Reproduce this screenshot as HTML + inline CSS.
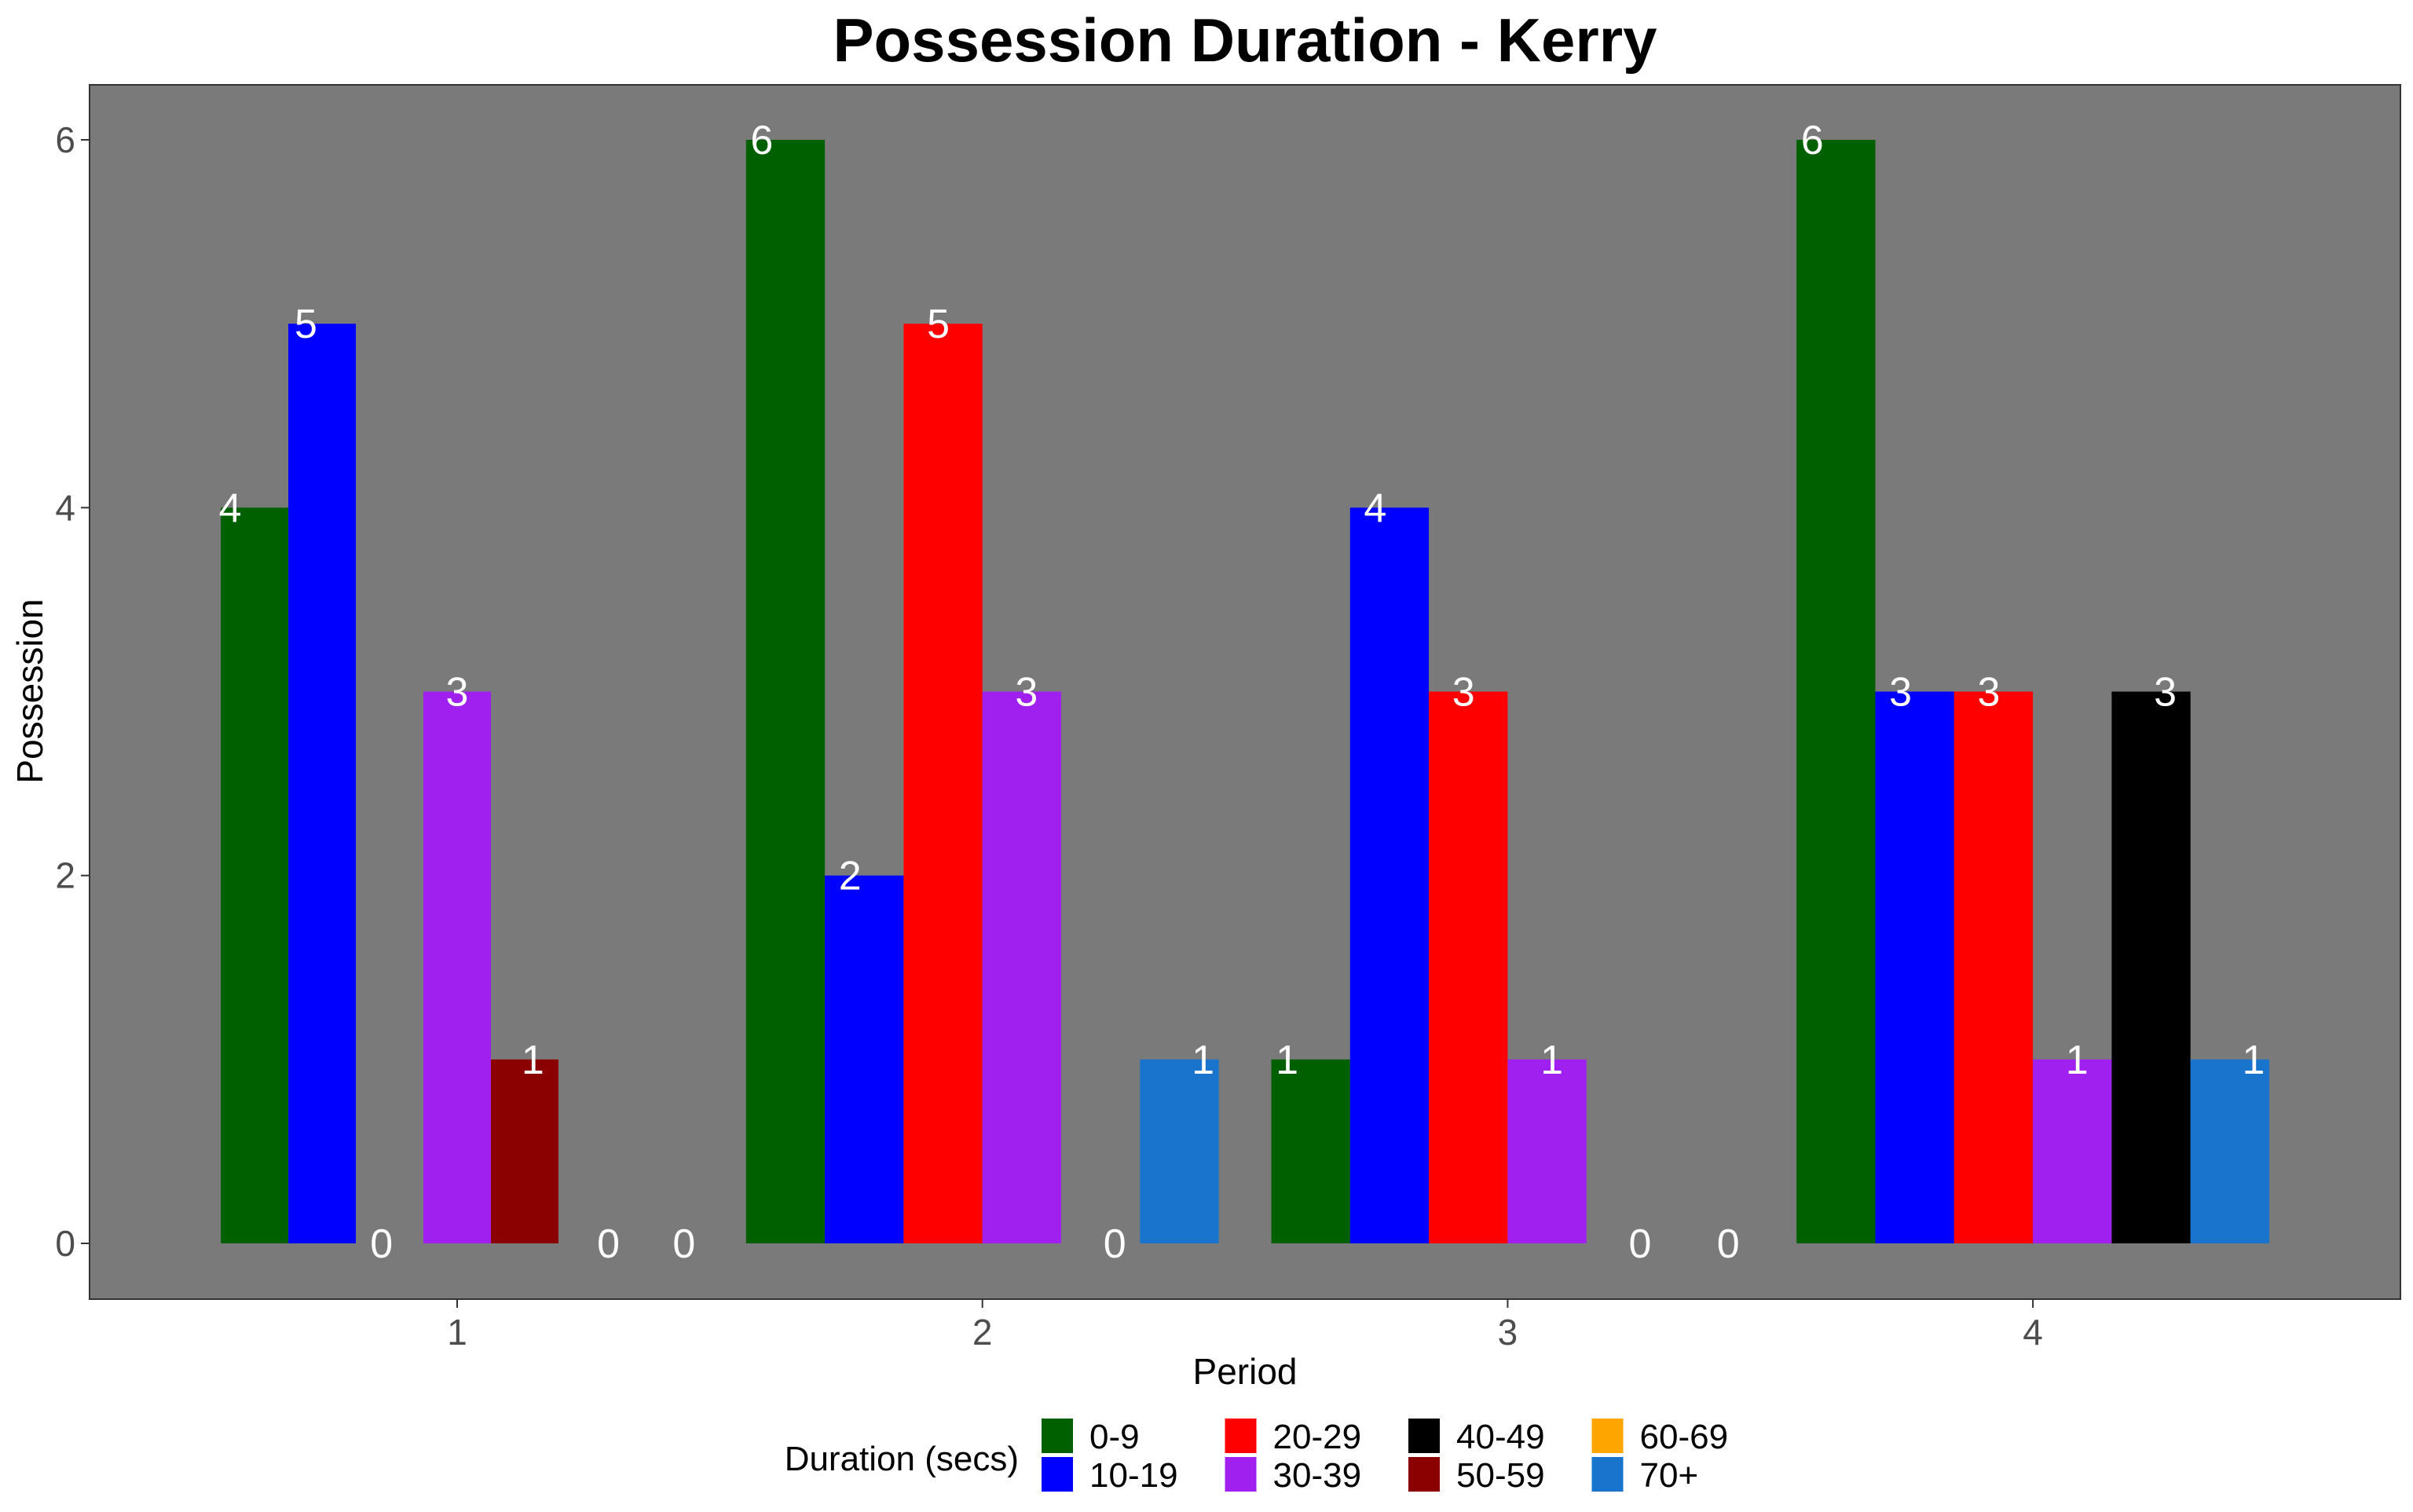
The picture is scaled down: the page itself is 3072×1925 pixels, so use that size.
<!DOCTYPE html>
<html><head><meta charset="utf-8"><style>
html,body{margin:0;padding:0;background:#fff;}
svg text{font-family:"Liberation Sans",sans-serif;}
</style></head><body>
<svg id="chart" width="3072" height="1920" viewBox="0 0 3072 1920" xmlns="http://www.w3.org/2000/svg">
<text x="1585" y="78" text-anchor="middle" font-size="78" font-weight="bold" fill="#000">Possession Duration - Kerry</text>
<rect x="114" y="108" width="2942" height="1546" fill="#7a7a7a" stroke="#333" stroke-width="2"/>
<g id="bars"></g>
<g id="labels"></g>
<g id="axes"></g>
<text x="1585" y="1762" text-anchor="middle" font-size="46" fill="#000">Period</text>
<text transform="translate(54,880) rotate(-90)" text-anchor="middle" font-size="46" fill="#000">Possession</text>
<g id="legend">
<text x="1297" y="1872" text-anchor="end" font-size="44" fill="#000">Duration (secs)</text>
</g>
</svg>
<script>
const periods = ["1","2","3","4"];
const p1Cats = ["0-9","10-19","20-29","30-39","50-59","60-69","70+"];
const p1Vals = [4,5,0,3,1,0,0];
const p2Cats = ["0-9","10-19","20-29","30-39","50-59","70+"];
const p2Vals = [6,2,5,3,0,1];
const p3Cats = ["0-9","10-19","20-29","30-39","50-59","70+"];
const p3Vals = [1,4,3,1,0,0];
const p4Cats = ["0-9","10-19","20-29","30-39","40-49","70+"];
const p4Vals = [6,3,3,1,3,1];
const yTicks = [0,2,4,6];
const legendCats = ["0-9","10-19","20-29","30-39","40-49","50-59","60-69","70+"];
const colors = {"0-9":"#006000","10-19":"#0000ff","20-29":"#ff0000","30-39":"#a020f0","40-49":"#000000","50-59":"#8b0000","60-69":"#ffa500","70+":"#1874cd"};
const NS="http://www.w3.org/2000/svg";
const xStart=582, xStep=668.7;
function xScale(i){return xStart+i*xStep;}
const y0=1583, yUnit=(1583-178)/6;
function yScale(v){return y0-v*yUnit;}
function mk(tag,attrs,parent){const e=document.createElementNS(NS,tag);for(const k in attrs)e.setAttribute(k,attrs[k]);parent.appendChild(e);return e;}
const bars=document.getElementById('bars'),labels=document.getElementById('labels'),axes=document.getElementById('axes'),legend=document.getElementById('legend');
const allCats=[p1Cats,p2Cats,p3Cats,p4Cats], allVals=[p1Vals,p2Vals,p3Vals,p4Vals];
allCats.forEach((cats,pi)=>{
  const vals=allVals[pi], n=cats.length, w=0.9*xStep/n, c=xScale(pi);
  cats.forEach((cat,i)=>{
    const v=vals[i];
    const bx=c+(i-(n-1)/2)*w-w/2;
    if(v>0){
      const r=mk('rect',{x:bx,y:yScale(v),width:w,height:yScale(0)-yScale(v),fill:colors[cat]},bars);
      
      
    }
    const lx=c+(i-(n-1)/2)*w*1.12;
    const t=mk('text',{x:lx,y:yScale(v)+18,'text-anchor':'middle','font-size':52,fill:'#fff'},labels);
    t.textContent=v;
    
    
  });
});
yTicks.forEach(v=>{
  const l=mk('line',{x1:103,x2:114,y1:yScale(v),y2:yScale(v),stroke:'#333','stroke-width':2},axes);
  
  
  const t=mk('text',{x:96,y:yScale(v)+16,'text-anchor':'end','font-size':46,fill:'#4d4d4d'},axes);
  t.textContent=v;
  
  
});
periods.forEach((p,i)=>{
  const l=mk('line',{x1:xScale(i),x2:xScale(i),y1:1654,y2:1665,stroke:'#333','stroke-width':2},axes);
  
  
  const t=mk('text',{x:xScale(i),y:1712,'text-anchor':'middle','font-size':46,fill:'#4d4d4d'},axes);
  t.textContent=p;
  
  
});
legendCats.forEach((cat,i)=>{
  const col=Math.floor(i/2), row=i%2;
  const kx=1326+col*233.5, ky=1806+row*49;
  const r=mk('rect',{x:kx,y:ky,width:40,height:44,fill:colors[cat]},legend);
  
  
  const t=mk('text',{x:kx+61,y:ky+38,'font-size':44,fill:'#000'},legend);
  t.textContent=cat;
  
  
});
</script>
</body></html>
